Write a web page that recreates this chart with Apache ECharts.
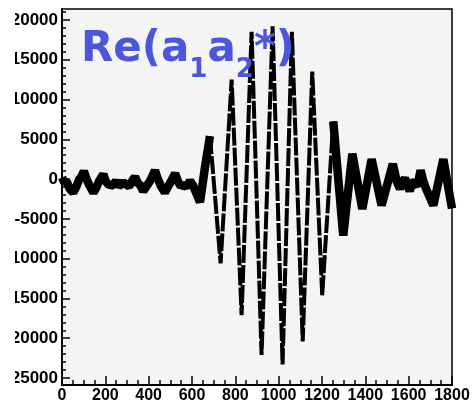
<!DOCTYPE html>
<html>
<head>
<meta charset="utf-8">
<script src="https://cdn.jsdelivr.net/npm/echarts@6/dist/echarts.min.js"></script>
<style>
  html, body { margin: 0; padding: 0; background: #fff; }
  #chart { width: 473px; height: 406px; }
</style>
</head>
<body>
<div id="chart"></div>
<script>
// left quiet part (noise band)
var xLeft = [0, 12, 22, 35, 52, 65, 80, 92, 101, 112, 125, 145, 158, 170, 191, 202, 215, 237, 250, 262, 283, 297, 310, 325, 337, 350, 362, 375, 390, 405, 418, 429, 440, 455, 475, 490, 505, 522, 535, 548, 560, 575, 591, 605, 620, 637, 660, 683];
var yLeft = [200, -500, -300, -1200, -1700, -1000, 0, 400, 1000, 100, -700, -1700, -1100, -300, 600, -300, -700, -800, -200, -900, -400, -700, -900, -200, 300, -500, -800, -1500, -900, -300, 400, 1100, 200, -800, -1700, -900, -200, 700, -300, -900, -700, -1000, -200, -800, -1800, -2900, 1500, 5400];
// big oscillation (wave packet)
var xMid = [683, 732, 783, 829, 875, 921, 972, 1018, 1061, 1111, 1155, 1201, 1252];
var yMid = [5400, -10600, 12500, -17100, 18500, -22100, 19200, -23300, 18500, -20400, 13500, -14600, 7250];
// right quiet part
var xRight = [1252, 1298, 1340, 1386, 1429, 1475, 1527, 1545, 1560, 1572, 1583, 1595, 1605, 1615, 1625, 1640, 1655, 1668, 1680, 1714, 1760, 1800];
var yRight = [7250, -7100, 3200, -3750, 2500, -3300, 1900, -300, -1200, -400, 100, -800, -1500, -500, -400, -900, 1100, -300, -1200, -3300, 2500, -3700];

var xTicks = [0, 200, 400, 600, 800, 1000, 1200, 1400, 1600, 1800];
var yLabels = [-25000, -20000, -15000, -10000, -5000, 0, 5000, 10000, 15000, 20000];
var yMinor = [];
for (var v = -25000; v <= 21000; v += 1000) yMinor.push(v);

function pairs(xs, ys) {
    return xs.map(function (x, i) { return [x, ys[i]]; });
}

var myChart = echarts.init(document.getElementById('chart'));
var lblFont = { fontFamily: 'Liberation Sans', fontWeight: 'bold', fontSize: 16, color: '#000', formatter: function (v) { return String(v); } };
var blue = '#4b57db';

var option = {
    animation: false,
    title: {
        text: '{m|Re(a}{s|1}{m|a}{s|2}{m|*)}',
        left: 81,
        top: 39,
        padding: 0,
        textStyle: {
            rich: {
                m: { fontFamily: 'DejaVu Sans', fontWeight: 'bold', fontSize: 42, lineHeight: 44, color: blue, padding: [0, 0, 12, 0], verticalAlign: 'bottom' },
                s: { fontFamily: 'DejaVu Sans', fontWeight: 'bold', fontSize: 26, lineHeight: 26, color: blue, verticalAlign: 'bottom' }
            }
        }
    },
    // the original picture cuts the y labels on the left
    graphic: [{
        type: 'rect',
        left: 0, top: 0, z: 100,
        shape: { width: 15, height: 406 },
        style: { fill: '#fff' }
    }],
    grid: {
        left: 62, right: 21, top: 9, bottom: 21,
        show: true,
        backgroundColor: '#f4f4f4',
        borderColor: '#000',
        borderWidth: 1.5
    },
    xAxis: {
        type: 'value',
        min: 0, max: 1800, interval: 200,
        axisLine: { onZero: false, lineStyle: { color: '#000', width: 2 } },
        axisTick: { inside: true, length: 9, lineStyle: { color: '#000', width: 1.5 } },
        minorTick: { show: true, splitNumber: 4, length: 5, lineStyle: { color: '#000', width: 1.5 } },
        splitLine: { show: false },
        axisLabel: Object.assign({ margin: 3, customValues: xTicks }, lblFont)
    },
    yAxis: [
        {
            type: 'value',
            min: -25875, max: 21375,
            axisLine: { show: true, onZero: false, lineStyle: { color: '#000', width: 2 } },
            axisTick: { show: true, inside: true, length: 8, customValues: yLabels, lineStyle: { color: '#000', width: 1.5 } },
            splitLine: { show: false },
            axisLabel: Object.assign({}, lblFont, { margin: 4, fontSize: 17, customValues: yLabels })
        },
        {
            type: 'value',
            position: 'left',
            min: -25875, max: 21375,
            axisLine: { show: false, onZero: false },
            axisTick: { show: true, inside: true, length: 4, customValues: yMinor, lineStyle: { color: '#000', width: 1.5 } },
            splitLine: { show: false },
            axisLabel: { show: false }
        }
    ],
    series: [
        {
            type: 'line',
            data: pairs(xLeft, yLeft),
            symbol: 'none',
            lineStyle: { color: '#000', width: 8.5 }
        },
        {
            type: 'line',
            data: pairs(xMid, yMid),
            symbol: 'none',
            lineStyle: { color: '#000', width: 4, type: [18, 2] }
        },
        {
            type: 'line',
            data: pairs(xRight, yRight),
            symbol: 'none',
            lineStyle: { color: '#000', width: 8.5 }
        }
    ]
};
myChart.setOption(option);
</script>
</body>
</html>
